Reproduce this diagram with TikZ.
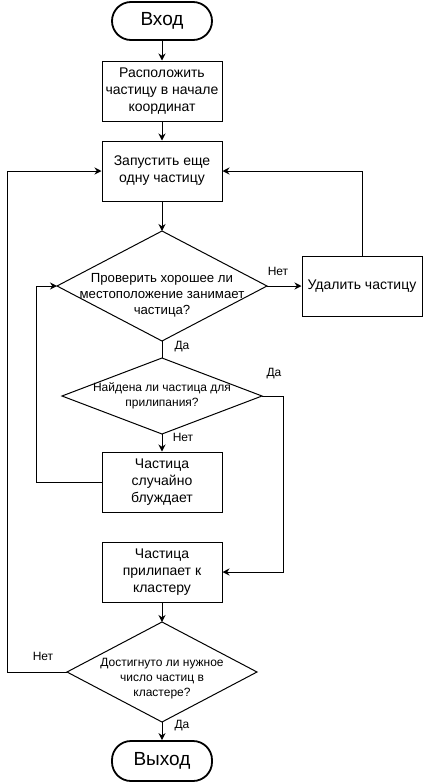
\documentclass[tikz,border=0pt]{standalone}
\usepackage{fontspec}
\setmainfont{Liberation Sans}
\usetikzlibrary{arrows.meta,shapes.geometric}

\begin{document}
\begin{tikzpicture}[x=1pt,y=-1pt,
    box/.style={draw, line width=1pt, minimum width=120pt, minimum height=60pt, inner sep=0pt, align=center, font=\fontsize{14}{17}\selectfont},
    term/.style={draw, line width=1.8pt, rounded corners=19pt, minimum width=100pt, minimum height=38pt, font=\fontsize{19}{22}\selectfont},
    decision/.style={draw, diamond, line width=1pt, inner sep=0pt, outer sep=0pt},
    dtext/.style={align=center, font=\fontsize{12}{15}\selectfont},
    tag/.style={font=\fontsize{12}{14}\selectfont, inner sep=0pt},
    arr/.style={-{Stealth[length=7pt,width=7pt]}, line width=1pt}]
    \useasboundingbox (0,0) rectangle (424,782);
    \fill[white] (0,0) rectangle (424,782);

    \node[term] (start) at (162,21) {Вход};
    \node[box] (place) at (162,91) {Расположить\\частицу в начале\\координат};
    \node[box] (launch) at (162,171) {Запустить еще\\одну частицу};
    \node[decision, minimum width=210pt, minimum height=110pt,
        label={[dtext, font=\fontsize{13.2}{16}\selectfont, name=check-t, yshift=-9pt]center:{Проверить хорошее ли\\местоположение занимает\\частица?}}] (check) at (162,286) {};
    \node[box] (remove) at (362,286) {Удалить частицу};
    \node[decision, minimum width=200pt, minimum height=76pt,
        label={[dtext, name=found-t]center:{Найдена ли частица для\\прилипания?}}] (found) at (162,396) {};
    \node[box] (walk) at (162,482) {Частица\\случайно\\блуждает};
    \node[box] (stick) at (162,572) {Частица\\прилипает к\\кластеру};
    \node[decision, minimum width=190pt, minimum height=100pt,
        label={[dtext, name=done-t, yshift=-7pt]center:{Достигнуто ли нужное\\число частиц в\\кластере?}}] (done) at (162,672) {};
    \node[term, minimum height=40pt] (stop) at (162,761) {Выход};

    \draw[arr] (start) -- (place);
    \draw[arr] (place) -- (launch);
    \draw[arr] (launch) -- (check);
    \draw[arr] (check.east) -- (remove.west);
    \draw[arr] (remove.north) |- (launch.east);
    \draw[line width=1pt] (check.south) -- (found.north);
    \draw[arr] (found.south) -- (walk.north);
    \draw[arr] (walk.west) -- ++(-65,0) |- (check.west);
    \draw[arr] (found.east) -- ++(21,0) |- (stick.east);
    \draw[arr] (stick) -- (done.north);
    \draw[arr] (done.west) -- ++(-60,0) |- (launch.west);
    \draw[arr] (done.south) -- (stop.north);

    \node[tag] (no1) at (278,271) {Нет};
    \node[tag] (yes1) at (182,347) {Да};
    \node[tag] (yes2) at (274,374) {Да};
    \node[tag] (no2) at (183,437) {Нет};
    \node[tag] (no3) at (43,656) {Нет};
    \node[tag] (yes3) at (182,726) {Да};
\end{tikzpicture}
\end{document}
